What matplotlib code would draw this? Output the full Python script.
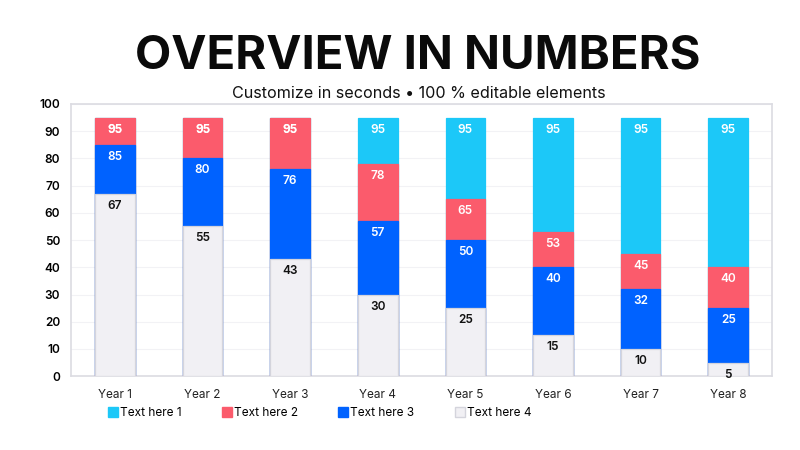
import numpy as np
import matplotlib.pyplot as plt
from matplotlib.lines import Line2D

plt.rcParams['font.family'] = ['Inter', 'DejaVu Sans']

years = ['Year 1', 'Year 2', 'Year 3', 'Year 4', 'Year 5', 'Year 6', 'Year 7', 'Year 8']
series_names = ['Text here 1', 'Text here 2', 'Text here 3', 'Text here 4']
s1 = [95, 95, 95, 95, 95, 95, 95, 95]
s2 = [95, 95, 95, 78, 65, 53, 45, 40]
s3 = [85, 80, 76, 57, 50, 40, 32, 25]
s4 = [67, 55, 43, 30, 25, 15, 10, 5]

colors = ['#1cc8f8', '#fb5b6c', '#0062ff', '#f1f0f4']
label_colors = ['white', 'white', 'white', '#111111']

fig = plt.figure(figsize=(8, 4.5), dpi=100)
ax = fig.add_axes([0.089, 0.164, 0.876, 0.605])

x = np.arange(len(years))
# bars overlap, each drawn from zero, bigger ones behind
for i, vals in enumerate([s1, s2, s3, s4]):
    ec = '#d4d4dc' if i == 3 else colors[i]
    ax.bar(x, vals, width=0.45, color=colors[i], edgecolor=ec, linewidth=0.9, zorder=2 + i)
    for xi, v in zip(x, vals):
        ax.text(xi, v - 2.2, str(v), ha='center', va='top', fontsize=8.5,
                fontweight='semibold', color=label_colors[i], zorder=10)

ax.set_xlim(-0.5, 7.5)
ax.set_ylim(0, 100)
ax.set_yticks(range(0, 101, 10))
ax.set_xticks(x)
ax.set_xticklabels(years, fontsize=8.5, color='#222222')
for t in ax.get_yticklabels():
    t.set_fontsize(8.5)
    t.set_fontweight('semibold')
ax.tick_params(length=0, pad=8)
ax.tick_params(axis='x', pad=9)
ax.grid(axis='y', color='#f2f2f5', linewidth=0.8, zorder=0)
for sp in ax.spines.values():
    sp.set_color('#dcdce2')
    sp.set_linewidth(1.2)

fig.text(0.522, 0.875, 'OVERVIEW IN NUMBERS', ha='center', va='center',
         fontsize=34, fontweight='bold', color='#0a0a0a')
fig.text(0.523, 0.793, 'Customize in seconds \u2022 100 % editable elements', ha='center',
         va='center', fontsize=11.6, color='#111111')

handles = [Line2D([0], [0], marker='s', linestyle='', markersize=7, markerfacecolor=c,
                  markeredgecolor=('#d4d4dc' if c == '#f1f0f4' else c)) for c in colors]
fig.legend(handles, series_names, loc='center left', bbox_to_anchor=(0.12, 0.083), ncol=4,
           frameon=False, fontsize=8.5, handletextpad=0.1, columnspacing=3.35,
           handlelength=1.0)

fig.savefig('out.png', dpi=100)
